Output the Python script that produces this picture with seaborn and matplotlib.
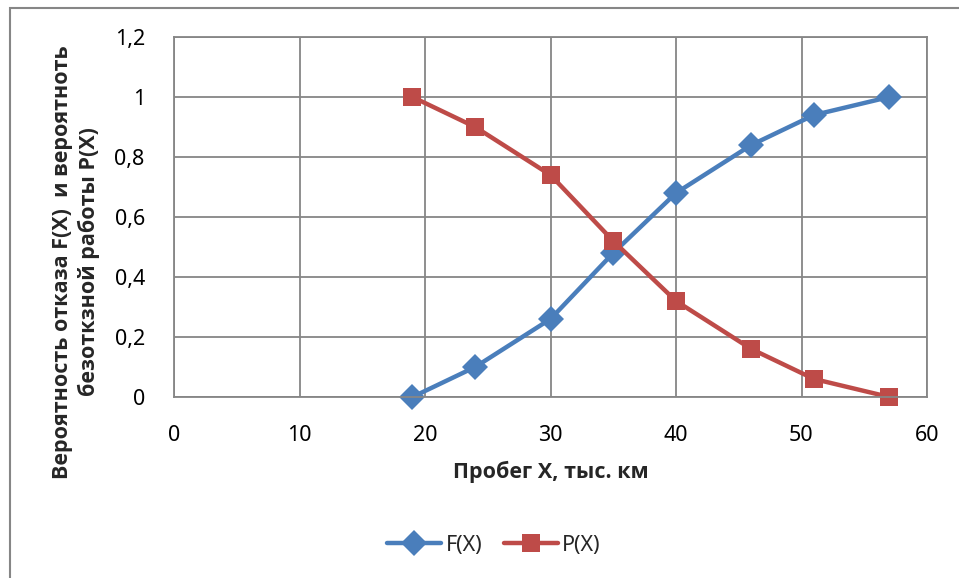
import matplotlib
matplotlib.use("Agg")
import matplotlib.pyplot as plt
import seaborn as sns
import pandas as pd
from matplotlib.patches import Rectangle
from matplotlib.lines import Line2D

# data
mileage = [19, 24, 30, 35, 40, 46, 51, 57]
f_values = [0.0, 0.10, 0.26, 0.48, 0.68, 0.84, 0.94, 1.0]
p_values = [1.0, 0.90, 0.74, 0.52, 0.32, 0.16, 0.06, 0.0]
x_ticks = [0, 10, 20, 30, 40, 50, 60]
y_ticks = [0, 0.2, 0.4, 0.6, 0.8, 1.0, 1.2]
y_tick_labels = ["0", "0,2", "0,4", "0,6", "0,8", "1", "1,2"]
series_names = ["F(X)", "P(X)"]
x_label = "Пробег X, тыс. км"
y_label = "Вероятность отказа F(X)  и вероятноть\nбезоткзной работы P(X)"

sns.set_theme(style="white")
plt.rcParams["font.family"] = ["Noto Sans", "DejaVu Sans"]
bold_family = ["Open Sans", "DejaVu Sans"]

blue = "#4A7EBB"
red = "#BE4B48"
gray = "#868686"

fig = plt.figure(figsize=(9.59, 5.78), dpi=100)
W, H = 959, 578
ax = fig.add_axes([174 / W, 1 - 397 / H, (927 - 174) / W, (397 - 37) / H])

df = pd.DataFrame({"x": mileage, "F": f_values, "P": p_values})
sns.lineplot(data=df, x="x", y="F", ax=ax, color=blue, linewidth=3.2,
             marker="D", markersize=13, markeredgewidth=0, markeredgecolor=blue,
             clip_on=False)
sns.lineplot(data=df, x="x", y="P", ax=ax, color=red, linewidth=3.2,
             marker="s", markersize=13.5, markeredgewidth=0, markeredgecolor=red,
             clip_on=False)

ax.set_xlim(0, 60)
ax.set_ylim(0, 1.2)
ax.set_xticks(x_ticks)
ax.set_xticklabels([str(t) for t in x_ticks])
ax.set_yticks(y_ticks)
ax.set_yticklabels(y_tick_labels)
ax.grid(True, color=gray, linewidth=1.3)
ax.set_axisbelow(True)
for s in ax.spines.values():
    s.set_color(gray)
    s.set_linewidth(1.3)
ax.tick_params(axis="both", which="major", direction="out", length=5, width=1.3,
               color=gray, labelsize=15.5, labelcolor="black")
ax.tick_params(axis="x", pad=15)
ax.tick_params(axis="y", pad=16)
ax.set_xlabel("")
ax.set_ylabel("")

fig.text(551 / W, 1 - 472 / H, x_label, ha="center", va="center",
         fontsize=15.5, fontweight="bold", family=bold_family)
fig.text(76 / W, 1 - 262 / H, y_label, ha="center", va="center", rotation=90,
         fontsize=15.5, fontweight="bold", family=bold_family,
         multialignment="center", linespacing=1.25)

handles = [
    Line2D([], [], color=blue, linewidth=3.2, marker="D", markersize=13, markeredgewidth=0),
    Line2D([], [], color=red, linewidth=3.2, marker="s", markersize=13.5, markeredgewidth=0),
]
fig.legend(handles, series_names, loc="center", bbox_to_anchor=(494 / W, 1 - 545 / H),
           ncol=2, frameon=False, fontsize=15.5, handlelength=2.5, columnspacing=1.0,
           handletextpad=0.2)

fig.patches.append(Rectangle((10 / W, -0.05), 1.2, 1 - 8 / H + 0.05,
                             transform=fig.transFigure, fill=False,
                             edgecolor=gray, linewidth=1.5))

fig.savefig("out.png", dpi=100)
